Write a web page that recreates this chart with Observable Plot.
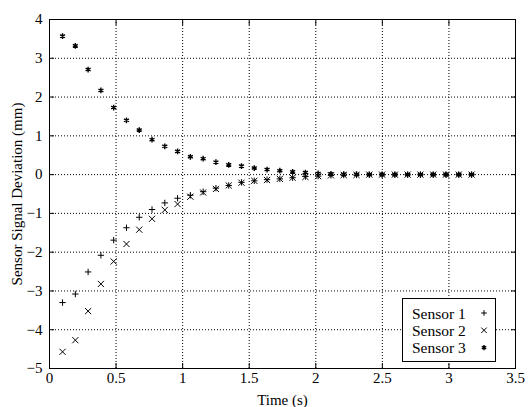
<!DOCTYPE html>
<html><head><meta charset="utf-8">
<script src="https://cdn.jsdelivr.net/npm/d3@7"></script>
<script src="https://cdn.jsdelivr.net/npm/@observablehq/plot@0.6"></script>
<style>body{margin:0;background:#fff}</style>
</head><body><div id="chart"></div>
<script>
const time = [0.098, 0.194, 0.290, 0.386, 0.482, 0.578, 0.674, 0.770, 0.866, 0.962, 1.058, 1.154, 1.250, 1.346, 1.442, 1.538, 1.634, 1.730, 1.826, 1.922, 2.018, 2.114, 2.210, 2.306, 2.402, 2.498, 2.594, 2.690, 2.786, 2.882, 2.978, 3.074, 3.170];
const sensor1 = [-3.30, -3.08, -2.51, -2.08, -1.69, -1.37, -1.10, -0.90, -0.73, -0.61, -0.53, -0.44, -0.35, -0.28, -0.20, -0.16, -0.13, -0.11, -0.08, -0.05, -0.04, -0.02, -0.01, -0.01, 0, 0, 0, 0, 0, 0, 0, 0, 0];
const sensor2 = [-4.57, -4.27, -3.52, -2.82, -2.24, -1.79, -1.42, -1.14, -0.91, -0.76, -0.57, -0.46, -0.37, -0.28, -0.21, -0.16, -0.14, -0.11, -0.08, -0.06, -0.04, -0.02, -0.01, -0.01, 0, 0, 0, 0, 0, 0, 0, 0, 0];
const sensor3 = [3.57, 3.32, 2.71, 2.17, 1.73, 1.40, 1.15, 0.90, 0.73, 0.60, 0.46, 0.41, 0.32, 0.25, 0.22, 0.17, 0.13, 0.10, 0.07, 0.05, 0.03, 0.02, 0.01, 0.01, 0, 0, 0, 0, 0, 0, 0, 0, 0];
const seriesNames = ["Sensor 1", "Sensor 2", "Sensor 3"];
const seriesSymbols = ["plus", "times", "asterisk"];
const xTicks = [0, 0.5, 1, 1.5, 2, 2.5, 3, 3.5];
const yTicks = [-5, -4, -3, -2, -1, 0, 1, 2, 3, 4];
const xLabel = "Time (s)";
const yLabel = "Sensor Signal Deviation (mm)";

const seriesValues = [sensor1, sensor2, sensor3];
const markerR = [2.2, 2.9, 2.7];
const markerW = [1, 1, 1.4];
const seriesRows = seriesValues.map((vals, i) => vals.map((v, j) => ({t: time[j], v, series: seriesNames[i]})));

const fmt = d => d < 0 ? "\u2212" + Math.abs(d) : String(d);
const font = "'Liberation Serif', 'Times New Roman', serif";

const plot = Plot.plot({
  width: 528, height: 407,
  marginLeft: 49, marginRight: 13, marginTop: 19, marginBottom: 39,
  style: {fontFamily: font, fontSize: "15px", color: "black", background: "white"},
  x: {domain: [0, 3.5]},
  y: {domain: [-5, 4]},
  marks: [
    Plot.gridX(xTicks, {stroke: "black", strokeOpacity: 1, strokeDasharray: "1,2"}),
    Plot.gridY(yTicks, {stroke: "black", strokeOpacity: 1, strokeDasharray: "1,2"}),
    Plot.frame({stroke: "black"}),
    Plot.axisX(xTicks, {anchor: "bottom", tickSize: -5, tickPadding: 9, tickFormat: fmt,
      label: xLabel, labelAnchor: "center", labelOffset: 36, labelArrow: "none"}),
    Plot.axisX(xTicks, {anchor: "top", tickSize: -5, tickFormat: () => "", label: null}),
    Plot.axisY(yTicks, {anchor: "left", tickSize: -5, tickPadding: 12, tickFormat: fmt,
      label: yLabel, labelAnchor: "center", labelOffset: 38, labelArrow: "none"}),
    Plot.axisY(yTicks, {anchor: "right", tickSize: -5, tickFormat: () => "", label: null}),
    ...seriesRows.map((rows, i) => Plot.dot(rows, {x: "t", y: "v", symbol: seriesSymbols[i], r: markerR[i],
      fill: "none", stroke: "black", strokeWidth: markerW[i]}))
  ]
});
document.getElementById("chart").appendChild(plot);

// legend
const d3Syms = [d3.symbolPlus, d3.symbolTimes, d3.symbolAsterisk];
const svg = d3.select(plot);
const lg = svg.append("g").attr("font-family", font).attr("font-size", 15.5).attr("text-anchor", "start");
lg.append("rect").attr("x", 402.5).attr("y", 298.5).attr("width", 93).attr("height", 63)
  .attr("fill", "white").attr("stroke", "black");
seriesNames.forEach((name, i) => {
  lg.append("text").attr("x", 412).attr("y", 318.5 + i * 17.3).attr("fill", "black").text(name);
  lg.append("path").attr("transform", `translate(484,${313 + i * 17.3})`)
    .attr("d", d3.symbol(d3Syms[i], markerR[i] * markerR[i] * Math.PI * 0.8)())
    .attr("fill", "none").attr("stroke", "black").attr("stroke-width", markerW[i]);
});
</script>
</body></html>
